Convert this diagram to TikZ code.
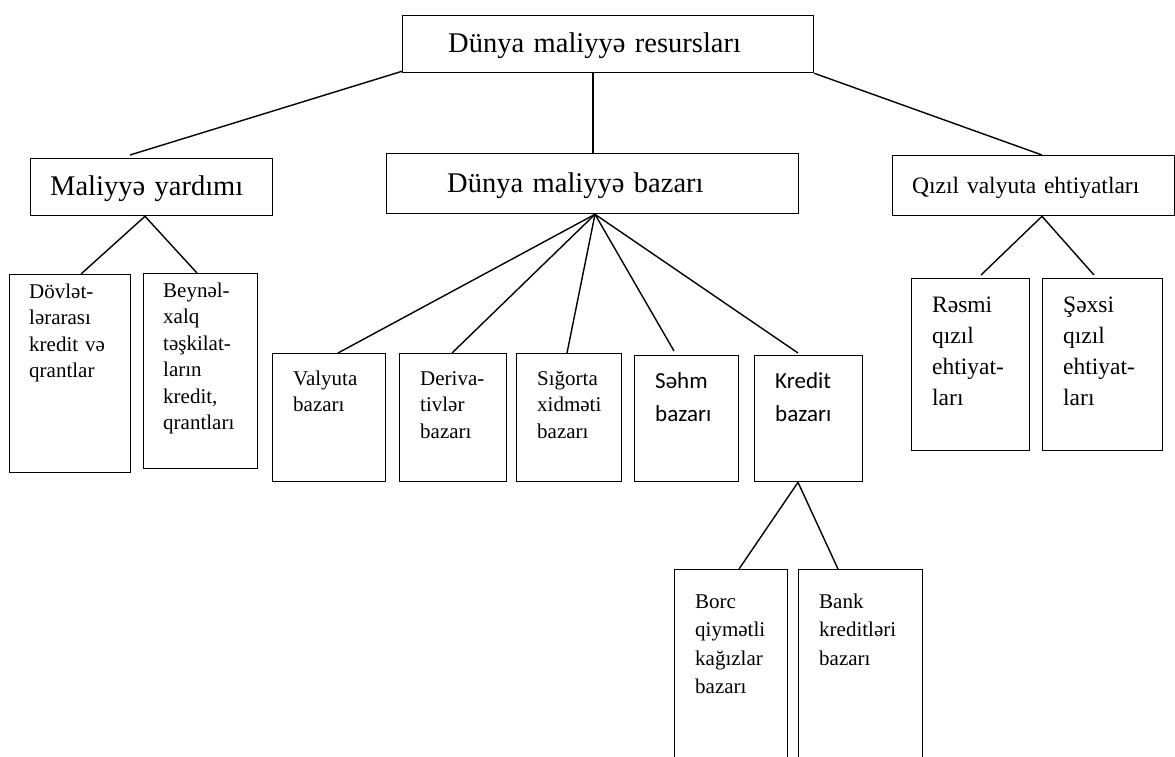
\documentclass[tikz,border=0pt]{standalone}
\usepackage{fontspec}
\setmainfont{Liberation Serif}
\newfontfamily\calibrifont{Carlito}
\usetikzlibrary{calc}
\begin{document}
\begin{tikzpicture}[x=1pt,y=-1pt,
  box/.style={draw=black, line width=1.3pt, rectangle, inner sep=0pt, anchor=north west},
  lbl/.style={anchor=base west, inner sep=0pt, align=left, text width=#1},
  link/.style={draw=black, line width=1.4pt},
  big/.style={font=\fontsize{28.5}{34}\selectfont},
  mid/.style={font=\fontsize{23.5}{31}\selectfont},
  small/.style={font=\fontsize{21}{26.5}\selectfont},
  smallb/.style={font=\fontsize{21}{28.5}\selectfont},
  sans/.style={font=\calibrifont\fontsize{23}{33}\selectfont}
]
\useasboundingbox (0,0) rectangle (1175,756);
\clip (0,0) rectangle (1175,756);

% level 0
\node[box, minimum width=411pt, minimum height=57pt] (top) at (402,15) {};
\node[lbl=350pt, big] (topt) at ($(top.north west)+(46,37)$) {Dünya maliyyə resursları};

% level 1
\node[box, minimum width=242pt, minimum height=57pt] (may) at (30,158) {};
\node[lbl=215pt, big] (mayt) at ($(may.north west)+(20,37)$) {Maliyyə yardımı};

\node[box, minimum width=412pt, minimum height=60pt] (dmb) at (386,153) {};
\node[lbl=340pt, big] (dmbt) at ($(dmb.north west)+(61,39)$) {Dünya maliyyə bazarı};

\node[box, minimum width=282pt, minimum height=60pt] (qvz) at (892,155) {};
\node[lbl=260pt, mid] (qvzt) at ($(qvz.north west)+(20,38)$) {Qızıl valyuta ehtiyatları};

% level 2: financial aid
\node[box, minimum width=121pt, minimum height=198pt] (dov) at (9,274) {};
\node[lbl=100pt, small] (dovt) at ($(dov.north west)+(20,24)$) {Dövlət-\\lərarası\\kredit və\\qrantlar};

\node[box, minimum width=114pt, minimum height=195pt] (bey) at (143,273) {};
\node[lbl=93pt, small] (beyt) at ($(bey.north west)+(20,24)$) {Beynəl-\\xalq\\təşkilat-\\ların\\kredit,\\qrantları};

% level 2: markets
\node[box, minimum width=113pt, minimum height=128pt] (val) at (272,353) {};
\node[lbl=90pt, small] (valt) at ($(val.north west)+(21,32)$) {Valyuta\\bazarı};

\node[box, minimum width=107pt, minimum height=128pt] (der) at (399,353) {};
\node[lbl=84pt, small] (dert) at ($(der.north west)+(21,32)$) {Deriva-\\tivlər\\bazarı};

\node[box, minimum width=105pt, minimum height=128pt] (sig) at (516,353) {};
\node[lbl=82pt, small] (sigt) at ($(sig.north west)+(21,32)$) {Sığorta\\xidməti\\bazarı};

\node[box, minimum width=104pt, minimum height=126pt] (seh) at (634,355) {};
\node[lbl=80pt, sans] (seht) at ($(seh.north west)+(21,33)$) {Səhm\\bazarı};

\node[box, minimum width=108pt, minimum height=126pt] (kre) at (754,355) {};
\node[lbl=84pt, sans] (kret) at ($(kre.north west)+(21,33)$) {Kredit\\bazarı};

% level 3: credit market
\node[box, minimum width=113pt, minimum height=200pt] (borc) at (674,569) {};
\node[lbl=90pt, smallb] (borct) at ($(borc.north west)+(21,39)$) {Borc\\qiymətli\\kağızlar\\bazarı};

\node[box, minimum width=124pt, minimum height=200pt] (bank) at (798,569) {};
\node[lbl=100pt, smallb] (bankt) at ($(bank.north west)+(21,39)$) {Bank\\kreditləri\\bazarı};

% level 2: gold and currency reserves
\node[box, minimum width=118pt, minimum height=172pt] (res) at (911,278) {};
\node[lbl=95pt, mid] (rest) at ($(res.north west)+(21,34)$) {Rəsmi\\qızıl\\ehtiyat-\\ları};

\node[box, minimum width=120pt, minimum height=172pt] (sex) at (1042,278) {};
\node[lbl=95pt, mid] (sext) at ($(sex.north west)+(21,34)$) {Şəxsi\\qızıl\\ehtiyat-\\ları};

% connectors
\draw[link] ($(top.south west)+(0,-2)$) -- ($(may.north west)+(100,-3)$);
\draw[link] ($(top.south west)+(191,0)$) -- ($(dmb.north west)+(207,0)$);
\draw[link] (top.south east) -- ($(qvz.north west)+(150,0)$);

\draw[link] ($(may.south west)+(115,0)$) -- ($(dov.north west)+(72,0)$);
\draw[link] ($(may.south west)+(115,0)$) -- ($(bey.north west)+(54,0)$);

\draw[link] ($(dmb.south west)+(209,0)$) -- ($(val.north west)+(66,0)$);
\draw[link] ($(dmb.south west)+(209,0)$) -- ($(der.north west)+(53,0)$);
\draw[link] ($(dmb.south west)+(209,0)$) -- ($(sig.north west)+(51,0)$);
\draw[link] ($(dmb.south west)+(209,0)$) -- ($(seh.north west)+(40,-4)$);
\draw[link] ($(dmb.south west)+(209,0)$) -- ($(kre.north west)+(44,-2)$);

\draw[link] ($(kre.south west)+(44,0)$) -- ($(borc.north west)+(65,0)$);
\draw[link] ($(kre.south west)+(44,0)$) -- ($(bank.north west)+(40,0)$);

\draw[link] ($(qvz.south west)+(150,0)$) -- ($(res.north west)+(70,-3)$);
\draw[link] ($(qvz.south west)+(150,0)$) -- ($(sex.north west)+(52,-3)$);
\end{tikzpicture}
\end{document}
